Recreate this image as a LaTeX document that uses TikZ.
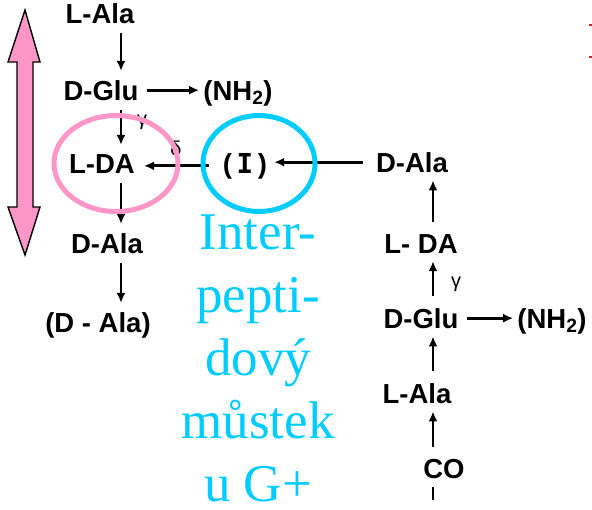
\documentclass[tikz,border=0pt]{standalone}
\usepackage{fontspec}
\setmainfont{Liberation Serif}
\setsansfont{Liberation Sans}
\newfontfamily\monoI{DejaVu Sans Mono}
\usetikzlibrary{arrows.meta, positioning}
\definecolor{wallpink}{RGB}{255, 150, 200}
\definecolor{bridgecyan}{RGB}{0, 204, 255}
\definecolor{fragred}{RGB}{215, 30, 30}

\begin{document}
\begin{tikzpicture}[x=1pt, y=-1pt,
  res/.style={inner sep=0pt, anchor=base, font=\sffamily\bfseries\fontsize{27.5}{30}\selectfont},
  tag/.style={inner sep=0pt, font=\sffamily\fontsize{20}{22}\selectfont},
  arr/.style={-{Latex[length=10pt,width=9pt]}, line width=2.8pt},
  down/.style={arr, shorten <=10pt, shorten >=9pt},
  up/.style={arr, shorten <=12pt, shorten >=8pt},
  side/.style={arr, shorten <=8pt, shorten >=4pt},
  ring/.style={line width=5pt}
]
\useasboundingbox (0,0) rectangle (592,509);

% cell wall direction
\filldraw[fill=wallpink, draw=black, line width=1.4pt]
  (25,10) -- (40,62) -- (33,62) -- (33,207) -- (40,207) -- (25,255)
  -- (8,207) -- (17,207) -- (17,62) -- (8,62) -- cycle;

\coordinate (lx) at (121,0);
\coordinate (rx) at (433,0);

% left strand
\node[res] (lala) at (100,23) {L-Ala};
\node[res] (dglu) at (101,100) {D-Glu};
\node[res] (nh) at (238,100) {(NH\textsubscript{2})};
\node[res] (lda) at (102,173) {L-DA};
\node[res] (dala) at (107,253) {D-Ala};
\node[res] (dalb) at (98,332) {(D - Ala)};
\node[res] (br) at (245,173) {(\,{\monoI\bfseries I}\,)};

% right strand
\node[res] (rdala) at (412,172) {D-Ala};
\node[res] (rlda) at (421,253) {L- DA};
\node[res] (rdglu) at (421,328) {D-Glu};
\node[res] (rnh) at (552,328) {(NH\textsubscript{2})};
\node[res] (rlala) at (417,403) {L-Ala};
\node[res] (co) at (444,478) {CO};
\coordinate (cotail) at (433,500);

\node[tag] (g1) at (142,122) {γ};
\node[tag] (d1) at (176,148) {δ};
\node[tag] (g2) at (456,284) {γ};

\draw[down] (lala.south -| lx) -- (dglu.north -| lx);
\draw[down] (dglu.south -| lx) -- (lda.north -| lx);
\draw[down] (lda.south -| lx) -- (dala.north -| lx);
\draw[down] (dala.south -| lx) -- (dalb.north -| lx);
\draw[side] (dglu.east) -- (dglu.east -| nh.west);

\draw[up] (rlda.north -| rx) -- (rdala.south -| rx);
\draw[up] (rdglu.north -| rx) -- (rlda.south -| rx);
\draw[up] (rlala.north -| rx) -- (rdglu.south -| rx);
\draw[up] (co.north -| rx) -- (rlala.south -| rx);
\draw[side] (rdglu.east) -- (rdglu.east -| rnh.west);
\draw[line width=2.8pt, shorten <=9pt] (co.south -| rx) -- (cotail);

\draw[arr, shorten <=14pt, shorten >=9pt] (br.west) -- (br.west -| lda.east);
\draw[arr, shorten <=13pt, shorten >=7pt] (rdala.west) -- (rdala.west -| br.east);

% circled parts
\draw[ring, wallpink] (116,163.5) ellipse [x radius=62, y radius=48];
\draw[ring, bridgecyan] (259,163.5) ellipse [x radius=56, y radius=48];

\node[align=center, text=bridgecyan, inner sep=0pt, anchor=north,
      font=\fontsize{53}{63}\selectfont] (bridge) at (258,215)
  {Inter-\\pepti-\\dový\\můstek\\u G+};

\draw[fragred, line width=2pt] (589,25) -- (592,25) (589,57) -- (592,57);
\end{tikzpicture}
\end{document}
